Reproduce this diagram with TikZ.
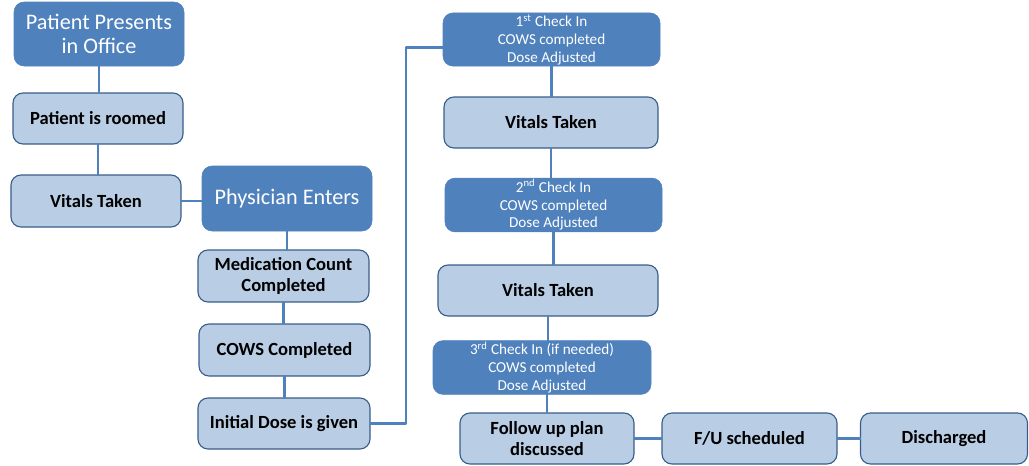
\documentclass[tikz,border=0pt]{standalone}
\usepackage{fontspec}
\setmainfont{Carlito}
\definecolor{darkblue}{HTML}{4F81BD}
\definecolor{lightblue}{HTML}{B9CDE5}
\definecolor{edgeblue}{HTML}{385D8A}
\begin{document}
\begin{tikzpicture}[line join=round,
		box/.style={rounded corners=.25cm,align=center,inner sep=1pt,outer sep=0pt,minimum height=1.275cm},
		light/.style={box,fill=lightblue,draw=edgeblue,line width=.8pt,text=black,font=\fontsize{13.2}{14.8}\selectfont\bfseries},
		dark/.style={box,fill=darkblue,draw=darkblue,text=white,font=\fontsize{10.8}{12.6}\selectfont},
		big/.style={dark,font=\fontsize{15.8}{17.6}\selectfont},
		link/.style={draw=darkblue,line width=2pt}]
	\useasboundingbox (0,0) rectangle (25.725,-11.625);
	% left column
	\node[big,minimum width=4.25cm,minimum height=1.6cm] (pres) at (2.475,-.85) {Patient Presents\\in Office};
	\node[light,minimum width=4.25cm] (room) at (2.45,-2.9625) {Patient is roomed};
	\node[light,minimum width=4.25cm,minimum height=1.3cm] (vit1) at (2.4,-5.025) {Vitals Taken};
	% middle column
	\node[big,minimum width=4.25cm,minimum height=1.625cm] (phys) at (7.175,-4.9625) {Physician Enters};
	\node[light,minimum width=4.275cm,minimum height=1.3cm] (med) at (7.0875,-6.9) {Medication Count\\Completed};
	\node[light,minimum width=4.275cm,minimum height=1.3cm] (cows) at (7.1125,-8.75) {COWS Completed};
	\node[light,minimum width=4.3cm] (dose) at (7.1,-10.5875) {Initial Dose is given};
	% right column
	\node[dark,minimum width=5.425cm] (chk1) at (13.7875,-.9875) {1\textsuperscript{st} Check In\\COWS completed\\Dose Adjusted};
	\node[light,minimum width=5.35cm] (vit2) at (13.775,-3.0625) {Vitals Taken};
	\node[dark,minimum width=5.425cm,minimum height=1.25cm] (chk2) at (13.8375,-5.125) {2\textsuperscript{nd} Check In\\COWS completed\\Dose Adjusted};
	\node[light,minimum width=5.5cm] (vit3) at (13.7,-7.2625) {Vitals Taken};
	\node[dark,minimum width=5.45cm] (chk3) at (13.55,-9.1875) {3\textsuperscript{rd} Check In (if needed)\\COWS completed\\Dose Adjusted};
	% bottom row
	\node[light,minimum width=4.35cm] (fup) at (13.675,-10.9625) {Follow up plan\\discussed};
	\node[light,minimum width=4.375cm] (fus) at (18.7375,-10.9625) {F/U scheduled};
	\node[light,minimum width=4.175cm] (disc) at (23.6,-10.9625) {Discharged};
	% connectors
	\foreach \a/\b in {pres/room,room/vit1,phys/med,med/cows,cows/dose,chk1/vit2,vit2/chk2,chk2/vit3,vit3/chk3}
	\draw[link] (\a.south) -- (\a.south |- \b.north);
	\draw[link] (fup.north) -- (fup.north |- chk3.south);
	\foreach \a/\b in {vit1/phys,fup/fus,fus/disc}
	\draw[link] (\a.east) -- (\a.east -| \b.west);
	\draw[link] (dose.east) -- ++(.9,0) |- ([yshift=-.2cm]chk1.west);
\end{tikzpicture}
\end{document}
